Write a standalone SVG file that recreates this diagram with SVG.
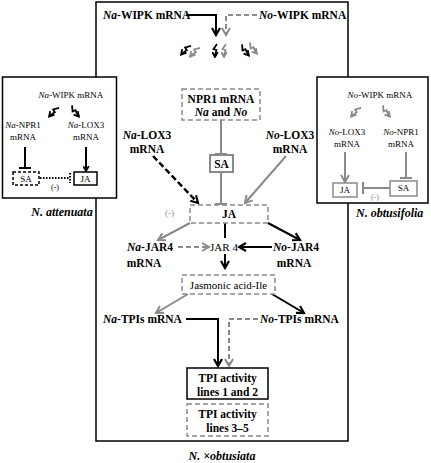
<svg xmlns="http://www.w3.org/2000/svg" width="431" height="463" viewBox="0 0 431 463">
<style>
text{font-family:"Liberation Serif","Times New Roman",serif;fill:#000}
.b{font-weight:bold;font-size:11.5px}
.r{font-size:11px}
.s{font-size:9px}
.m{font-size:8px;fill:#8a8a8a}
.t{font-weight:bold;font-style:italic;font-size:12px}
.i{font-style:italic}
.c{text-anchor:middle}
.frame{fill:#fff;stroke:#000;stroke-width:1.5}
.dg{fill:#fff;stroke:#8a8a8a;stroke-width:1.5;stroke-dasharray:5,3}
.k{fill:none;stroke:#000;stroke-width:2}
.g{fill:none;stroke:#8a8a8a;stroke-width:2}
.kd{fill:none;stroke:#000;stroke-width:2.5;stroke-dasharray:6,3}
.gd{fill:none;stroke:#8a8a8a;stroke-width:2;stroke-dasharray:5,3}
</style>
<defs>
<marker id="ab" viewBox="0 0 10 10" refX="8" refY="5" markerWidth="10" markerHeight="10" markerUnits="userSpaceOnUse" orient="auto"><path d="M1,1 L8,5 L1,9" fill="none" stroke="#000" stroke-width="2.2"/></marker>
<marker id="ag" viewBox="0 0 10 10" refX="8" refY="5" markerWidth="10" markerHeight="10" markerUnits="userSpaceOnUse" orient="auto"><path d="M1,1 L8,5 L1,9" fill="none" stroke="#8a8a8a" stroke-width="2"/></marker>
<marker id="abs" viewBox="0 0 10 10" refX="8" refY="5" markerWidth="7" markerHeight="7" markerUnits="userSpaceOnUse" orient="auto"><path d="M1,1 L8,5 L1,9" fill="none" stroke="#000" stroke-width="2.6"/></marker>
<marker id="ags" viewBox="0 0 10 10" refX="8" refY="5" markerWidth="7" markerHeight="7" markerUnits="userSpaceOnUse" orient="auto"><path d="M1,1 L8,5 L1,9" fill="none" stroke="#8a8a8a" stroke-width="2.6"/></marker>
<marker id="tk" viewBox="0 0 4 12" refX="2" refY="6" markerWidth="4" markerHeight="12" markerUnits="userSpaceOnUse" orient="auto"><path d="M2,0 V12" stroke="#000" stroke-width="2"/></marker>
<marker id="tg" viewBox="0 0 4 12" refX="2" refY="6" markerWidth="4" markerHeight="12" markerUnits="userSpaceOnUse" orient="auto"><path d="M2,0 V12" stroke="#8a8a8a" stroke-width="2"/></marker>
<marker id="tdot" viewBox="0 0 4 10" refX="2" refY="5" markerWidth="4" markerHeight="10" markerUnits="userSpaceOnUse" orient="auto"><path d="M2,0 V10" stroke="#000" stroke-width="2" stroke-dasharray="1.5,1.5"/></marker>
<path id="zzb" d="M2,-7 L-1.5,-2 L1.5,-1 L0,4 L0,6" fill="none" stroke="#000" stroke-width="1.8" marker-end="url(#abs)"/>
<path id="zzg" d="M2,-7 L-1.5,-2 L1.5,-1 L0,4 L0,6" fill="none" stroke="#8a8a8a" stroke-width="1.8" marker-end="url(#ags)"/>
</defs>
<rect width="431" height="463" fill="#fff"/>
<g id="main-frame"><rect class="frame" x="96" y="2" width="252" height="439"/></g>
<g id="left-panel">
<rect class="frame" x="2.5" y="77" width="114" height="121"/>
<text class="s c" x="71" y="98"><tspan class="i">Na</tspan>-WIPK mRNA</text>
<use href="#zzb" transform="translate(53,112) rotate(40)"/>
<use href="#zzb" transform="translate(75,112) rotate(-40)"/>
<text class="s c" x="23" y="128"><tspan class="i">Na</tspan>-NPR1</text>
<text class="s c" x="23" y="140">mRNA</text>
<text class="s c" x="86" y="128"><tspan class="i">Na</tspan>-LOX3</text>
<text class="s c" x="86" y="140">mRNA</text>
<path class="k" d="M25,147 V168" marker-end="url(#tk)"/>
<path class="k" d="M86,147 V171" marker-end="url(#abs)"/>
<g id="la-sa"><rect x="13" y="172" width="26" height="13" fill="#fff" stroke="#000" stroke-width="1.5" stroke-dasharray="3,2"/><text class="s c" x="26" y="182">SA</text></g>
<g id="la-ja"><rect x="74" y="172" width="23" height="13" fill="#fff" stroke="#000" stroke-width="1.5"/><text class="s c" x="85.5" y="182">JA</text></g>
<path d="M40,178 H70" fill="none" stroke="#000" stroke-width="2" stroke-dasharray="1.5,1.5" marker-end="url(#tdot)"/>
<text class="m c" x="55" y="190" style="fill:#000">(-)</text>
</g>
<text class="t c" x="62" y="216">N. attenuata</text>
<g id="right-panel">
<rect class="frame" x="317" y="77" width="111" height="126"/>
<text class="s c" x="380" y="98"><tspan class="i">No</tspan>-WIPK mRNA</text>
<use href="#zzg" transform="translate(355,112) rotate(40)"/>
<use href="#zzg" transform="translate(386,112) rotate(-40)"/>
<text class="s c" x="347" y="135"><tspan class="i">No</tspan>-LOX3</text>
<text class="s c" x="347" y="147">mRNA</text>
<text class="s c" x="401" y="135"><tspan class="i">No</tspan>-NPR1</text>
<text class="s c" x="401" y="147">mRNA</text>
<path class="g" d="M345,152 V182" marker-end="url(#ag)"/>
<path class="g" d="M406,152 V178" marker-end="url(#tg)"/>
<g id="ro-ja"><rect x="333" y="183" width="24" height="14" fill="#fff" stroke="#8a8a8a" stroke-width="1.5"/><text class="s c" x="345" y="193">JA</text></g>
<g id="ro-sa"><rect x="390" y="181" width="27" height="15" fill="#fff" stroke="#8a8a8a" stroke-width="1.5"/><text class="s c" x="403.5" y="191">SA</text></g>
<path class="g" d="M390,188 H363" marker-end="url(#tg)"/>
<text class="m c" x="375" y="200">(-)</text>
</g>
<text class="t" x="356" y="217">N. obtusifolia</text>
<g id="connectors">
<path class="k" d="M186,15 H216 V35" marker-end="url(#ab)"/>
<path class="gd" d="M257,15 H226 V35" marker-end="url(#ag)"/>
<use href="#zzb" transform="translate(185,50) rotate(40)"/>
<use href="#zzg" transform="translate(194,52) rotate(40)"/>
<use href="#zzb" transform="translate(215,51)"/>
<use href="#zzg" transform="translate(224,51)"/>
<use href="#zzb" transform="translate(245,51) rotate(-40)"/>
<use href="#zzg" transform="translate(253,49) rotate(-40)"/>
<path class="g" d="M221,120 V154" marker-end="url(#tg)"/>
<path class="g" d="M221,172 V204" marker-end="url(#tg)"/>
<path class="kd" d="M153,156 L198,203" marker-end="url(#ab)"/>
<path class="g" d="M286,156 L245,203" marker-end="url(#ag)"/>
<path class="g" d="M190,223 L158,240" marker-end="url(#ag)"/>
<path class="k" d="M225,223 V238"/>
<path class="k" d="M225,254 V268" marker-end="url(#ab)"/>
<path class="k" d="M268,223 L300,240" marker-end="url(#ab)"/>
<path class="gd" d="M178,247 H209" marker-end="url(#ag)"/>
<path class="k" d="M272,247 H239" marker-end="url(#ab)"/>
<path class="g" d="M188,294 L156,313" marker-end="url(#ag)"/>
<path class="k" d="M272,294 L304,313" marker-end="url(#ab)"/>
<path class="k" d="M186,319 H218 V366" marker-end="url(#ab)"/>
<path class="gd" d="M258,319 H229 V366" marker-end="url(#ag)"/>
</g>
<text class="b" x="103" y="19"><tspan class="i">Na</tspan>-WIPK mRNA</text>
<text class="b" x="259" y="19"><tspan class="i">No</tspan>-WIPK mRNA</text>
<g id="npr1"><rect class="dg" x="182" y="89" width="78" height="31"/><text class="b c" x="221" y="103">NPR1 mRNA</text><text class="b c" x="221" y="116"><tspan class="i">Na</tspan> and <tspan class="i">No</tspan></text></g>
<g id="sa"><rect x="210" y="155" width="23" height="17" fill="#fff" stroke="#8a8a8a" stroke-width="2"/><text class="b c" x="221.5" y="168">SA</text></g>
<g id="ja"><rect class="dg" x="190" y="205" width="78" height="18"/><text class="b c" x="229" y="218">JA</text></g>
<g id="na-lox3"><text class="b c" x="147" y="139"><tspan class="i">Na</tspan>-LOX3</text><text class="b c" x="147" y="153">mRNA</text></g>
<g id="no-lox3"><text class="b c" x="290" y="139"><tspan class="i">No</tspan>-LOX3</text><text class="b c" x="290" y="153">mRNA</text></g>
<text class="m" x="165" y="216" style="font-size:9px">(-)</text>
<g id="jar4"><text class="r c" x="224" y="251">JAR 4</text></g>
<g id="na-jar4"><text class="b" x="127" y="251"><tspan class="i">Na</tspan>-JAR4</text><text class="b c" x="144" y="267">mRNA</text></g>
<g id="no-jar4"><text class="b" x="273" y="251"><tspan class="i">No</tspan>-JAR4</text><text class="b c" x="294" y="267">mRNA</text></g>
<g id="ja-ile"><rect class="dg" x="182" y="275" width="93" height="19"/><text class="r c" x="228.5" y="289">Jasmonic acid-Ile</text></g>
<g id="na-tpis"><text class="b" x="103" y="323"><tspan class="i">Na</tspan>-TPIs mRNA</text></g>
<g id="no-tpis"><text class="b" x="260" y="323"><tspan class="i">No</tspan>-TPIs mRNA</text></g>
<g id="tpi12"><rect class="frame" x="187" y="368" width="81" height="31"/><text class="b c" x="227.5" y="382">TPI activity</text><text class="b c" x="227.5" y="396">lines 1 and 2</text></g>
<g id="tpi35"><rect class="dg" x="187" y="404" width="81" height="32"/><text class="b c" x="227.5" y="418">TPI activity</text><text class="b c" x="227.5" y="432">lines 3–5</text></g>
<text class="t c" x="222" y="460">N. ×obtusiata</text>
</svg>
